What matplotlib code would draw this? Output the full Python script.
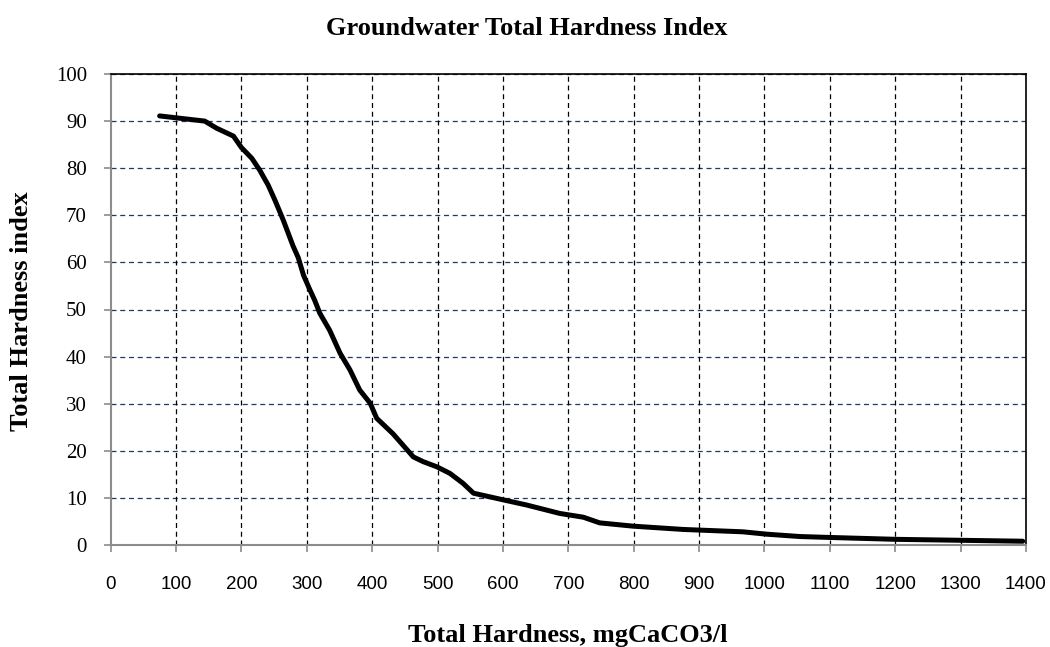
import matplotlib
matplotlib.use("Agg")
import matplotlib.pyplot as plt

hardness = [75, 100, 144, 162, 188, 200, 216, 228, 241, 252, 264, 279, 287, 295, 305,
            312, 320, 335, 351, 366, 381, 397, 407, 432, 463, 478, 499, 519, 539, 555,
            600, 636, 687, 723, 748, 799, 876, 967, 1003, 1054, 1100, 1202, 1300, 1395]
index = [91.1, 90.7, 90.0, 88.5, 86.8, 84.4, 82.1, 79.6, 76.4, 73.0, 69.0, 63.5, 61.0, 57.3, 54.1,
         52.0, 49.2, 45.6, 40.7, 37.2, 32.9, 30.1, 26.9, 23.6, 18.7, 17.7, 16.6, 15.2, 13.1, 11.0,
         9.6, 8.5, 6.7, 5.9, 4.7, 4.0, 3.3, 2.8, 2.3, 1.8, 1.6, 1.2, 1.0, 0.8]
x_ticks = list(range(0, 1401, 100))
y_ticks = list(range(0, 101, 10))

W, H = 1050, 647
fig = plt.figure(figsize=(W / 100, H / 100), dpi=100)
ax = fig.add_axes([110.6 / W, 1 - 545 / H, (1026 - 110.6) / W, (545 - 74) / H])

ax.set_xlim(0, 1400)
ax.set_ylim(0, 100)
ax.set_xticks(x_ticks)
ax.set_yticks(y_ticks)

for yv in y_ticks[1:]:
    ax.axhline(yv, color="#1f3864", lw=0.9, ls=(0, (4, 3)), zorder=1)
for xv in x_ticks[1:]:
    ax.axvline(xv, color="black", lw=0.9, ls=(0, (4, 3)), zorder=1)

ax.plot(hardness, index, color="black", lw=3.6, solid_capstyle="round",
        solid_joinstyle="round", zorder=3)

for s in ["top", "right"]:
    ax.spines[s].set_color("black")
    ax.spines[s].set_linewidth(1.2)
for s in ["left", "bottom"]:
    ax.spines[s].set_color("#8c8c8c")
    ax.spines[s].set_linewidth(1.5)

ax.tick_params(axis="x", direction="out", length=5, width=1.2, color="#8c8c8c", pad=17)
ax.tick_params(axis="y", direction="out", length=5, width=1.2, color="#8c8c8c", pad=12)
for lab in ax.get_xticklabels():
    lab.set_fontfamily("Liberation Sans")
    lab.set_fontsize(13.5)
for lab in ax.get_yticklabels():
    lab.set_fontfamily("Liberation Serif")
    lab.set_fontsize(15)

fig.text(568 / W, 1 - 642 / H, "Total Hardness, mgCaCO3/l", ha="center", va="baseline",
         fontfamily="Liberation Serif", fontweight="bold", fontsize=19)
fig.text(22 / W, 1 - 311 / H, "Total Hardness index", ha="center", va="center", rotation=90,
         fontfamily="Liberation Serif", fontweight="bold", fontsize=19)
fig.text(527 / W, 1 - 35 / H, "Groundwater Total Hardness Index", ha="center", va="baseline",
         fontfamily="Liberation Serif", fontweight="bold", fontsize=19)

fig.savefig("out.png", dpi=100)
